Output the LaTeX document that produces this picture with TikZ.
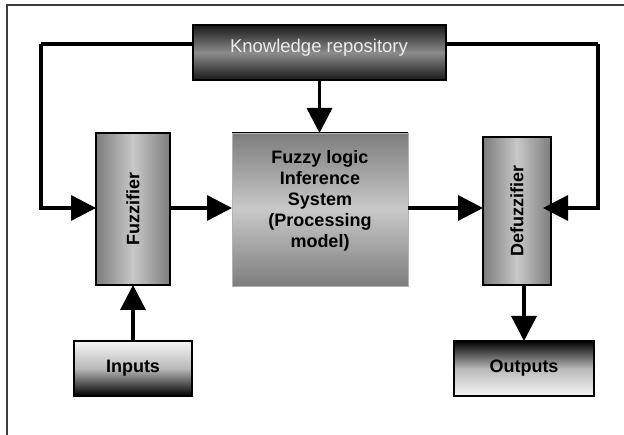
\documentclass[tikz,border=0pt]{standalone}
\usepackage{fontspec}
\setmainfont{Liberation Sans}
\usetikzlibrary{arrows.meta,calc}
\definecolor{gdark}{RGB}{125,125,125}
\definecolor{glight}{RGB}{200,200,200}
\definecolor{kdark}{RGB}{25,25,25}
\definecolor{kmid}{RGB}{140,140,140}
\definecolor{framec}{RGB}{60,60,60}
\definecolor{iolight}{RGB}{245,245,245}
\definecolor{iomid}{RGB}{185,185,185}
\begin{document}
\begin{tikzpicture}[x=1pt,y=-1pt,
  box/.style={draw=black, line width=1.2pt, inner sep=0pt, outer sep=0pt},
  lbl/.style={font=\fontsize{18}{21}\selectfont\bfseries, align=center, inner sep=0pt},
  conn/.style={line width=3.5pt, line join=miter},
  arr/.style={conn, -{Triangle[length=25pt,width=25pt]}},
  vshade/.style={top color=gdark, bottom color=gdark, middle color=glight},
  hshade/.style={left color=gdark, right color=gdark, middle color=glight},
]
\clip (0,0) rectangle (624,435);
\fill[white] (0,0) rectangle (624,435);
\draw[line width=2pt, framec] (7,5) rectangle (700,500);

% nodes
\node[box, minimum width=253pt, minimum height=55pt,
      top color=kdark, bottom color=kdark, middle color=kmid] (kb) at (319.5,52.5) {};
\node[font=\fontsize{18.5}{21}\selectfont, text=white!92!black, anchor=base, inner sep=0pt] (kbt) at (319,53) {Knowledge repository};

\node[box, minimum width=74pt, minimum height=152pt, hshade] (fz) at (133,209) {};
\node[lbl, rotate=90] (fzt) at (fz.center) {Fuzzifier};

\node[inner sep=0pt, outer sep=0pt, minimum width=176pt, minimum height=153pt,
      vshade, draw=black!30, line width=0.6pt] (fis) at (320,209.5) {};
\draw[black, line width=1pt] (fis.north west) -- (fis.north east);
\node[lbl] (fist) at (320,201) {Fuzzy logic\\Inference\\System\\(Processing\\model)};

\node[box, minimum width=68pt, minimum height=148pt, hshade] (dz) at (517,211) {};
\node[lbl, rotate=90] (dzt) at (dz.center) {Defuzzifier};

\node[box, line width=1.8pt, minimum width=118pt, minimum height=55pt,
      top color=iolight, bottom color=black, middle color=iomid] (inp) at (133,368.5) {};
\node[lbl] (inpt) at (inp.center) {Inputs};

\node[box, line width=1.8pt, minimum width=140pt, minimum height=55pt,
      top color=black, bottom color=iolight, middle color=iomid] (out) at (524,368.5) {};
\node[lbl] (outt) at (out.center) {Outputs};

% helper coordinates
\coordinate (tl) at (41,44);
\coordinate (tr) at (598,44);

% connectors
\draw[conn] (kb.west |- tl) -- (tl);
\draw[arr] (tl) -- (tl |- 0,208) -- (fz.west |- 0,208);
\draw[conn] (kb.east |- tr) -- (tr);
\draw[arr, shorten >=-8pt] (tr) -- (tr |- 0,208) -- (dz.east |- 0,208);
\draw[arr] (kb.south) -- (kb.south |- fis.north);
\draw[arr] (fz.east |- 0,208) -- (fis.west |- 0,208);
\draw[arr] (fis.east |- 0,208) -- (dz.west |- 0,208);
\draw[arr] (inp.north) -- (inp.north |- fz.south);
\draw[arr] (out.north |- dz.south) -- (out.north);
\end{tikzpicture}
\end{document}
